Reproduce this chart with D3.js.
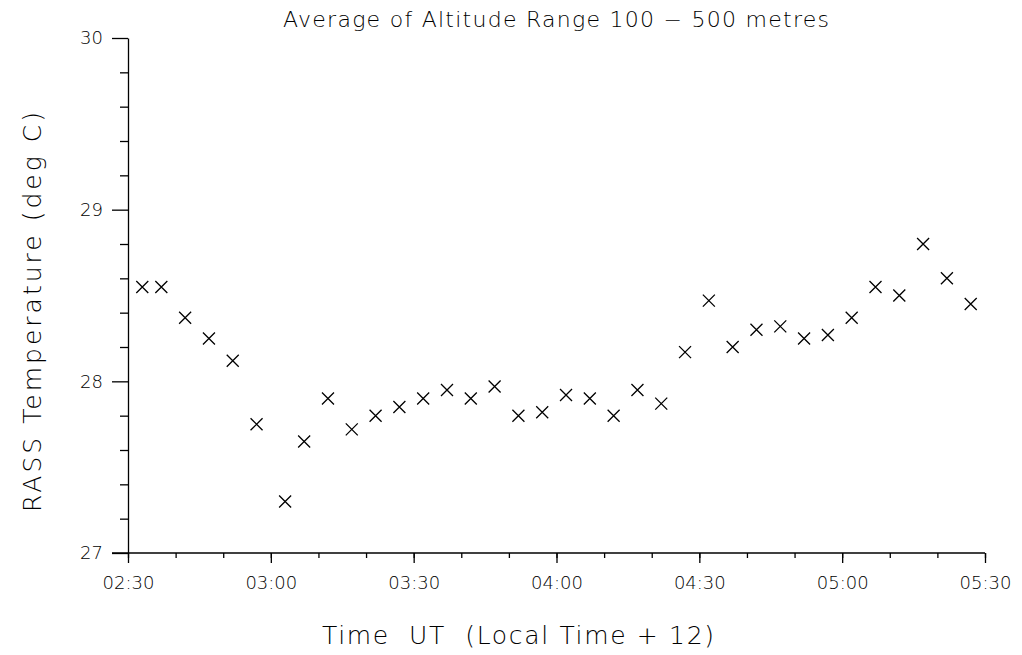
<!DOCTYPE html>
<html>
<head>
<meta charset="utf-8">
<script src="https://cdn.jsdelivr.net/npm/d3@7"></script>
<style>
	body { margin: 0; background: #fff; }
	svg { display: block; }
	text { font-family: "DejaVu Sans", "Open Sans", sans-serif; font-weight: 200; fill: #000; }
</style>
</head>
<body>
<svg id="chart" width="1022" height="655"></svg>
<script>
// Observation times (UT) of each RASS averaged profile
var times = ['02:33', '02:37', '02:42', '02:47', '02:52', '02:57', '03:03', '03:07', '03:12',
	'03:17', '03:22', '03:27', '03:32', '03:37', '03:42', '03:47', '03:52', '03:57', '04:02',
	'04:07', '04:12', '04:17', '04:22', '04:27', '04:32', '04:37', '04:42', '04:47', '04:52',
	'04:57', '05:02', '05:07', '05:12', '05:17', '05:22', '05:27'];
// Average temperature over 100 - 500 m (deg C)
var temps = [28.55, 28.55, 28.37, 28.25, 28.12, 27.75, 27.30, 27.65, 27.90,
	27.72, 27.80, 27.85, 27.90, 27.95, 27.90, 27.97, 27.80, 27.82, 27.92,
	27.90, 27.80, 27.95, 27.87, 28.17, 28.47, 28.20, 28.30, 28.32, 28.25,
	28.27, 28.37, 28.55, 28.50, 28.80, 28.60, 28.45];
// Axis extents and tick values
var timeRange = ['02:30', '05:30'];
var yMajorTicks = [27, 28, 29, 30];
var yMinorTicks = [27.2, 27.4, 27.6, 27.8, 28.2, 28.4, 28.6, 28.8, 29.2, 29.4, 29.6, 29.8];

var parse = d3.timeParse('%H:%M');
var fmt = d3.timeFormat('%H:%M');

// The plot box, in pixels
var LEFT = 128, RIGHT = 985, TOP = 38, BOTTOM = 553;

var svg = d3.select('#chart');

var x = d3.scaleTime().domain(timeRange.map(parse)).range([LEFT, RIGHT]);
var y = d3.scaleLinear().domain([27, 30]).range([BOTTOM, TOP]);

// Minor ticks first, so the major axis sits on top
svg.append('g').attr('transform', 'translate(0,' + BOTTOM + ')')
	.call(d3.axisBottom(x).ticks(d3.timeMinute.every(10)).tickSize(5).tickSizeOuter(0).tickFormat(''))
	.call(function (g) { g.select('.domain').remove(); });
svg.append('g').attr('transform', 'translate(' + LEFT + ',0)')
	.call(d3.axisLeft(y).tickValues(yMinorTicks).tickSize(8).tickSizeOuter(0).tickFormat(''))
	.call(function (g) { g.select('.domain').remove(); });

var xAxis = svg.append('g').attr('transform', 'translate(0,' + BOTTOM + ')')
	.call(d3.axisBottom(x).ticks(d3.timeMinute.every(30)).tickSize(10).tickSizeOuter(0).tickPadding(13).tickFormat(fmt));
// extend the x axis line left to meet the 27 tick
xAxis.select('.domain').attr('d', 'M' + (LEFT - 16) + ',0H' + RIGHT);

var yAxis = svg.append('g').attr('transform', 'translate(' + LEFT + ',0)')
	.call(d3.axisLeft(y).tickValues(yMajorTicks).tickSize(16).tickSizeOuter(0).tickPadding(9).tickFormat(d3.format('d')));

svg.selectAll('.tick line, .domain').attr('stroke', '#000').attr('stroke-width', 1.3);
svg.selectAll('.tick text').attr('font-size', 18).attr('font-family', null);

// Cross markers
var S = 6;
var pts = svg.append('g').selectAll('path').data(times).join('path')
	.attr('d', function (d, i) {
		var px = x(parse(d)), py = y(temps[i]);
		return 'M' + (px - S) + ',' + (py - S) + 'L' + (px + S) + ',' + (py + S) +
			'M' + (px - S) + ',' + (py + S) + 'L' + (px + S) + ',' + (py - S);
	})
	.attr('stroke', '#000').attr('stroke-width', 1.3).attr('fill', 'none');

// Titles
svg.append('text').attr('x', 556).attr('y', 27).attr('text-anchor', 'middle')
	.attr('font-size', 22).attr('textLength', 546).attr('lengthAdjust', 'spacing')
	.text('Average of Altitude Range 100 \u2212 500 metres');

svg.append('text').attr('x', 518).attr('y', 644).attr('text-anchor', 'middle')
	.attr('font-size', 25).attr('textLength', 392).attr('lengthAdjust', 'spacing')
	.style('white-space', 'pre')
	.text('Time  UT  (Local Time + 12)');

svg.append('text').attr('transform', 'translate(41,312) rotate(-90)').attr('text-anchor', 'middle')
	.attr('font-size', 25).attr('textLength', 400).attr('lengthAdjust', 'spacing')
	.text('RASS Temperature (deg C)');
</script>
</body>
</html>
